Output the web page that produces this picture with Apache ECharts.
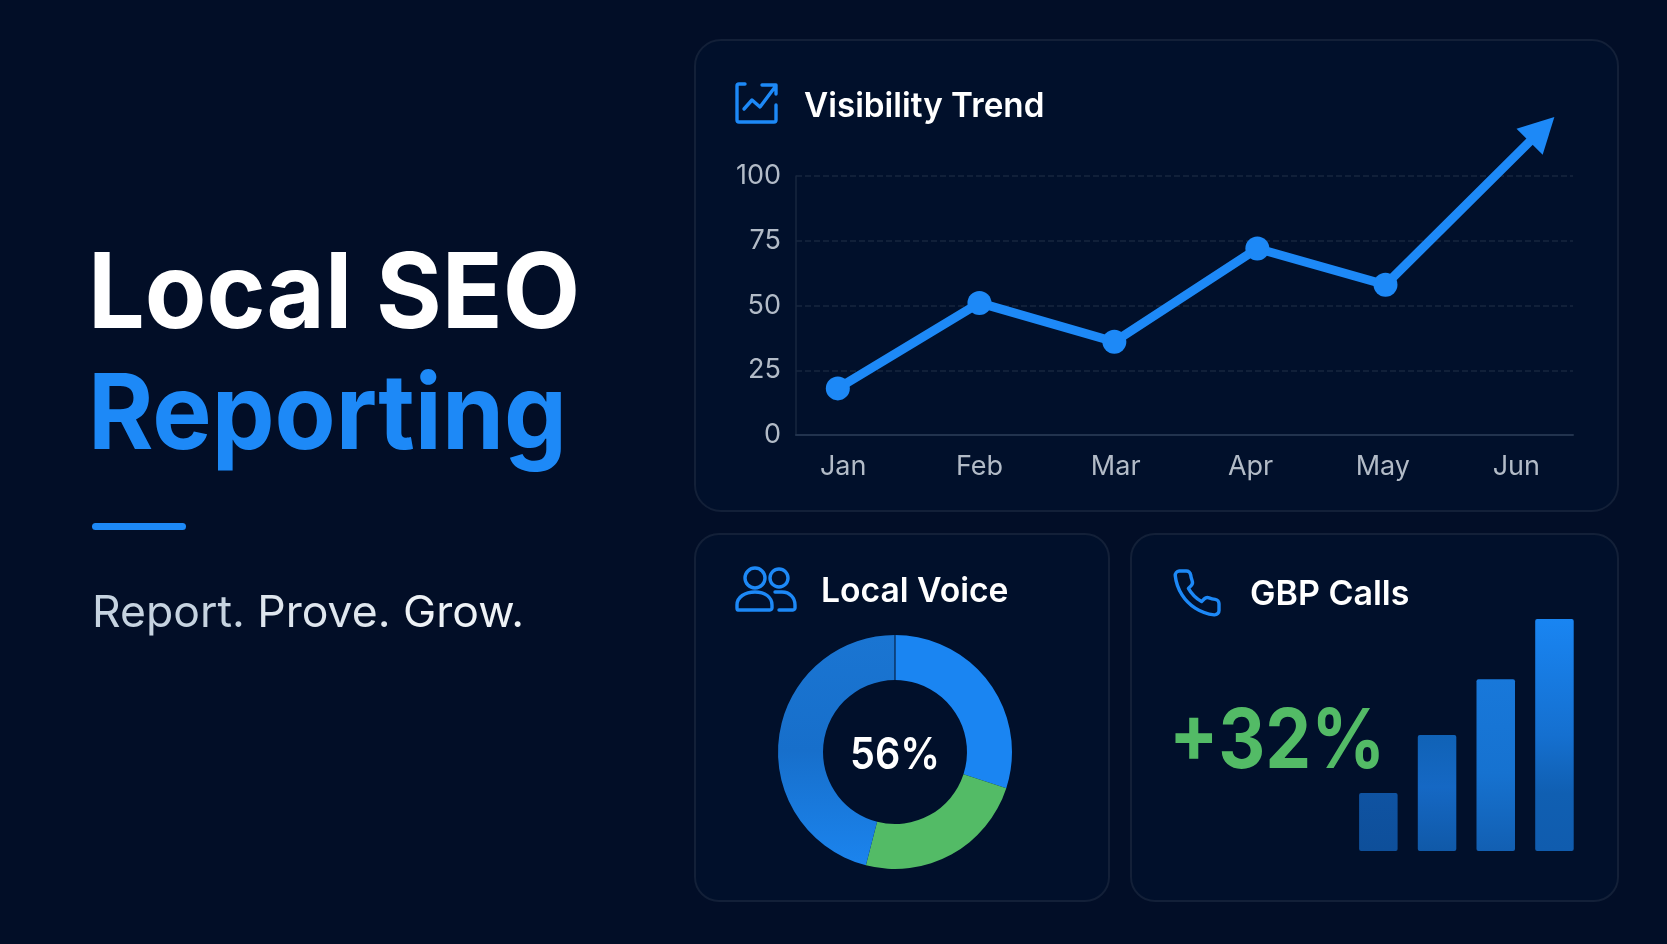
<!DOCTYPE html>
<html>
<head>
<meta charset="utf-8">
<title>Local SEO Reporting</title>
<script src="https://cdn.jsdelivr.net/npm/echarts@6/dist/echarts.min.js"></script>
<style>
html, body { margin: 0; padding: 0; background: #020e27; }
#main { width: 1667px; height: 944px; }
</style>
</head>
<body>
<div id="main"></div>
<script>
// visibility trend, x is read off in month units because the points are not evenly spaced
var months = ['Jan', 'Feb', 'Mar', 'Apr', 'May', 'Jun'];
var monthTicks = [0, 1.01, 2.02, 3.02, 4, 4.99];
var trendX = [-0.04, 1.01, 2.01, 3.07, 4.02, 5.18];
var trendY = [18, 51, 36, 72, 58, 118];
var yTicks = [0, 25, 50, 75, 100];

// local voice donut
var voiceNames = ['Blue A', 'Green', 'Blue B'];
var voiceValues = [30, 24, 46];

// gbp calls bars
var callNames = ['Q1', 'Q2', 'Q3', 'Q4'];
var callValues = [25, 50, 74, 100];

var BLUE = '#1d89f7';
var GREEN = '#53bb66';
var CARD = '#01102b';
var FONT = 'Inter, "Noto Sans", sans-serif';

function vGrad(stops) {
	return new echarts.graphic.LinearGradient(0, 0, 0, 1, stops.map(function (s) {
		return { offset: s[0], color: s[1] };
	}));
}

var barColors = [
	vGrad([[0, '#0f53a2'], [1, '#0e4f9a']]),
	vGrad([[0, '#1062b6'], [0.45, '#1568c4'], [1, '#1059a8']]),
	vGrad([[0, '#1878da'], [0.55, '#1672d0'], [1, '#125fb2']]),
	vGrad([[0, '#1985f2'], [0.5, '#1570d0'], [0.75, '#105fb2'], [1, '#105cae']])
];
var voiceColors = [
	'#1a85f2',
	GREEN,
	vGrad([[0, '#1a75d2'], [0.5, '#176fcb'], [1, '#1b84ee']])
];

echarts.graphic.registerShape('phoneIcon', echarts.graphic.extendPath(
	'M22 16.92v3a2 2 0 0 1-2.18 2 19.79 19.79 0 0 1-8.63-3.07 19.5 19.5 0 0 1-6-6 19.79 19.79 0 0 1-3.07-8.67A2 2 0 0 1 4.11 2h3a2 2 0 0 1 2 1.72 12.84 12.84 0 0 0 .7 2.81 2 2 0 0 1-.45 2.11L8.09 9.91a16 16 0 0 0 6 6l1.27-1.27a2 2 0 0 1 2.11-.45 12.84 12.84 0 0 0 2.81.7A2 2 0 0 1 22 16.92z'
));
echarts.graphic.registerShape('trendIcon', echarts.graphic.extendPath(
	'M745 84H739Q737 84 737 86V120Q737 122 739 122H774Q776 122 776 120V105M744 109L752 100L760 107L775 87M762 85H776V94'
));
echarts.graphic.registerShape('peopleIcon', echarts.graphic.extendPath(
	'M738 610C737 610 737 609 737 608V605C737 597 745 592 755 592C765 592 772 597 772 605V608C772 609 771 610 770 610ZM775 592H782C790 592 795 598 795 605V608C795 609 794 610 793 610H779'
));

function card(x, y, w, h, r) {
	return {
		type: 'rect', silent: true,
		shape: { x: x, y: y, width: w, height: h, r: r },
		style: { fill: CARD, stroke: '#132038', lineWidth: 2 }
	};
}

// squeeze stands in for the tighter letter spacing of the original type
function label(text, x, y, size, weight, fill, squeeze) {
	return {
		type: 'text', silent: true, z: 10,
		originX: x,
		scaleX: squeeze || 1,
		style: {
			x: x, y: y, text: text, fill: fill,
			font: weight + ' ' + size + 'px ' + FONT,
			verticalAlign: 'middle'
		}
	};
}

function icon(shape, extra) {
	var el = {
		type: shape, silent: true, z: 10, shape: {},
		style: { fill: null, stroke: BLUE, lineWidth: 3.4, lineCap: 'round', lineJoin: 'round' }
	};
	for (var k in extra) el[k] = extra[k];
	return el;
}

var myChart = echarts.init(document.getElementById('main'));

var option = {
	backgroundColor: '#020e27',
	animation: false,
	graphic: [
		card(695, 40, 923, 471, 26),
		card(695, 534, 414, 367, 24),
		card(1131, 534, 487, 367, 24),

		label('Local SEO', 88, 296, 105, 700, '#ffffff', 0.957),
		label('Reporting', 88, 417, 105, 700, BLUE, 0.95),
		{
			type: 'rect', silent: true,
			shape: { x: 92, y: 523, width: 94, height: 7, r: 3.5 },
			style: { fill: BLUE }
		},
		{
			type: 'text', silent: true, z: 10,
			originX: 92,
			scaleX: 1.012,
			style: {
				x: 92, y: 614, verticalAlign: 'middle',
				text: '{a|Report.} {b|Prove.} {c|Grow.}',
				font: '400 44px ' + FONT,
				rich: {
					a: { fill: '#c6d3e0', font: '400 44px ' + FONT },
					b: { fill: '#dfe6ee', font: '400 44px ' + FONT },
					c: { fill: '#eef2f6', font: '400 44px ' + FONT }
				}
			}
		},

		icon('trendIcon', {}),
		label('Visibility Trend', 804, 107, 34, 600, '#ffffff', 0.978),
		icon('peopleIcon', {}),
		{ type: 'circle', silent: true, z: 10, shape: { cx: 755, cy: 578, r: 10 }, style: { fill: null, stroke: BLUE, lineWidth: 3.4 } },
		{ type: 'circle', silent: true, z: 10, shape: { cx: 779, cy: 578, r: 9 }, style: { fill: null, stroke: BLUE, lineWidth: 3.4 } },
		label('Local Voice', 821, 592, 34, 600, '#ffffff', 0.99),
		icon('phoneIcon', { x: 1170.6, y: 566.6, scaleX: 2.2, scaleY: 2.2, style: { fill: null, stroke: BLUE, lineWidth: 1.55, lineJoin: 'round' } }),
		label('GBP Calls', 1250, 595, 34, 600, '#ffffff'),
		{
			type: 'text', silent: true, z: 10,
			originX: 895,
			scaleX: 0.9,
			style: { x: 895, y: 756, text: '56%', fill: '#ffffff', font: '600 44px ' + FONT, align: 'center', verticalAlign: 'middle' }
		},
		{
			type: 'line', silent: true, z: 10,
			shape: { x1: 895, y1: 635, x2: 895, y2: 680 },
			style: { stroke: CARD, lineWidth: 1 }
		},
		label('+32%', 1169, 743, 82, 700, GREEN, 0.89)
	],
	grid: [
		{ left: 796, top: 176, width: 777, height: 259 },
		{ left: 1349, top: 619, width: 234.8, height: 232 }
	],
	xAxis: [
		{
			gridIndex: 0,
			type: 'value',
			min: -0.35,
			max: 5.41,
			splitLine: { show: false },
			axisTick: { show: false },
			axisLine: { show: true, onZero: false, lineStyle: { color: '#22334e', width: 2 } },
			axisLabel: {
				customValues: monthTicks,
				margin: 18,
				color: '#b2bbc7',
				fontFamily: FONT,
				fontSize: 27,
				formatter: function (v) { return months[monthTicks.indexOf(v)]; }
			}
		},
		{
			gridIndex: 1,
			type: 'category',
			data: callNames,
			show: false
		}
	],
	yAxis: [
		{
			gridIndex: 0,
			type: 'value',
			min: 0,
			max: 100,
			interval: 25,
			axisTick: { show: false },
			axisLine: { show: true, onZero: false, lineStyle: { color: '#17263f', width: 1.5 } },
			splitLine: { lineStyle: { color: '#17263f', type: 'dashed', width: 1.5 } },
			axisLabel: {
				margin: 15,
				color: '#b2bbc7',
				fontFamily: FONT,
				fontSize: 27,
				customValues: yTicks
			}
		},
		{
			gridIndex: 1,
			type: 'value',
			min: 0,
			max: 100,
			show: false
		}
	],
	series: [
		{
			name: 'Visibility Trend',
			type: 'line',
			xAxisIndex: 0,
			yAxisIndex: 0,
			clip: false,
			symbol: 'circle',
			symbolSize: 24,
			showAllSymbol: true,
			lineStyle: { color: BLUE, width: 9 },
			itemStyle: { color: BLUE },
			data: trendX.map(function (x, i) {
				var item = { value: [x, trendY[i]] };
				if (i === trendX.length - 1) {
					// last point carries the arrow head
					item.symbol = 'triangle';
					item.symbolSize = [37, 35];
					item.symbolRotate = -45;
				}
				return item;
			})
		},
		{
			name: 'Local Voice',
			type: 'pie',
			center: [895, 752],
			radius: [72, 117],
			startAngle: 90,
			clockwise: true,
			silent: true,
			label: { show: false },
			labelLine: { show: false },
			data: voiceValues.map(function (v, i) {
				return { name: voiceNames[i], value: v, itemStyle: { color: voiceColors[i] } };
			})
		},
		{
			name: 'GBP Calls',
			type: 'bar',
			xAxisIndex: 1,
			yAxisIndex: 1,
			barWidth: 38.5,
			data: callValues.map(function (v, i) {
				return { value: v, itemStyle: { color: barColors[i], borderRadius: 2 } };
			})
		}
	]
};

myChart.setOption(option);
</script>
</body>
</html>
